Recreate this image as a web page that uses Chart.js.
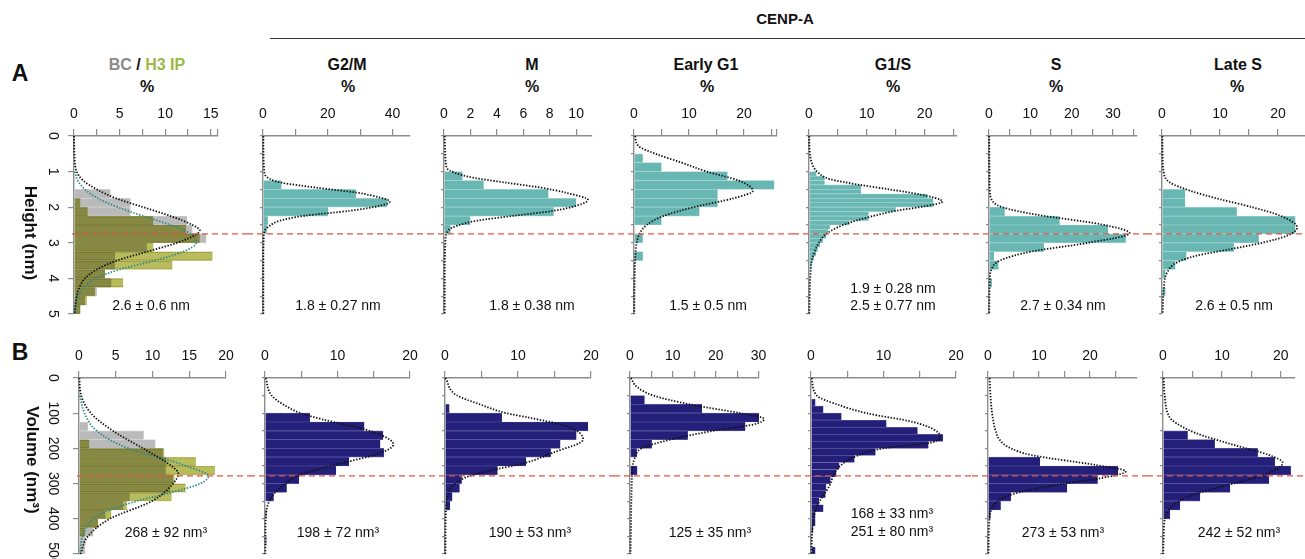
<!DOCTYPE html>
<html>
<head>
<meta charset="utf-8">
<script src="https://cdn.jsdelivr.net/npm/chart.js@4.4.1/dist/chart.umd.min.js"></script>
<style>
  html, body { margin: 0; padding: 0; background: #fff; }
  body { width: 1305px; height: 559px; overflow: hidden; position: relative;
         font-family: "Liberation Sans", Arial, Helvetica, sans-serif; color: #111; }
  canvas { position: absolute; }
  .t { position: absolute; transform: translate(-50%, -50%); white-space: nowrap; z-index: 5; }
  .title { font-weight: bold; font-size: 16px; }
  .stat { font-size: 14px; }
  .panel-letter { font-weight: bold; font-size: 23px; }
  .ylab { font-weight: bold; font-size: 17px; transform: translate(-50%, -50%) rotate(90deg); }
  .rule { position: absolute; left: 270px; top: 38px; width: 1035px; height: 1px; background: #333; }
</style>
</head>
<body>

<div class="t title" style="left:785px; top:18px; font-size:15px;">CENP-A</div>
<div class="rule"></div>

<div class="t panel-letter" style="left:20px; top:73px;">A</div>
<div class="t panel-letter" style="left:20px; top:352px;">B</div>
<div class="t ylab" style="left:30px; top:233px;">Height (nm)</div>
<div class="t ylab" style="left:32px; top:460px;">Volume (nm³)</div>

<div class="t title" style="left:147px; top:65px;"><span style="color:#8a8a8a">BC</span> / <span style="color:#9cb846">H3 IP</span></div>
<div class="t title" style="left:347px; top:65px;">G2/M</div>
<div class="t title" style="left:532px; top:65px;">M</div>
<div class="t title" style="left:706px; top:65px;">Early G1</div>
<div class="t title" style="left:893px; top:65px;">G1/S</div>
<div class="t title" style="left:1056px; top:65px;">S</div>
<div class="t title" style="left:1238px; top:65px;">Late S</div>
<div class="t title" style="left:147px; top:87px;">%</div>
<div class="t title" style="left:348px; top:87px;">%</div>
<div class="t title" style="left:532px; top:87px;">%</div>
<div class="t title" style="left:707px; top:87px;">%</div>
<div class="t title" style="left:893px; top:87px;">%</div>
<div class="t title" style="left:1056px; top:87px;">%</div>
<div class="t title" style="left:1237px; top:87px;">%</div>

<div class="t stat" style="left:151px; top:305px;">2.6 ± 0.6 nm</div>
<div class="t stat" style="left:338px; top:305px;">1.8 ± 0.27 nm</div>
<div class="t stat" style="left:532px; top:305px;">1.8 ± 0.38 nm</div>
<div class="t stat" style="left:708px; top:305px;">1.5 ± 0.5 nm</div>
<div class="t stat" style="left:893px; top:288px;">1.9 ± 0.28 nm</div>
<div class="t stat" style="left:893px; top:305px;">2.5 ± 0.77 nm</div>
<div class="t stat" style="left:1063px; top:305px;">2.7 ± 0.34 nm</div>
<div class="t stat" style="left:1234px; top:305px;">2.6 ± 0.5 nm</div>

<div class="t stat" style="left:166px; top:532px;">268 ± 92 nm³</div>
<div class="t stat" style="left:338px; top:532px;">198 ± 72 nm³</div>
<div class="t stat" style="left:530px; top:532px;">190 ± 53 nm³</div>
<div class="t stat" style="left:710px; top:532px;">125 ± 35 nm³</div>
<div class="t stat" style="left:892px; top:513px;">168 ± 33 nm³</div>
<div class="t stat" style="left:892px; top:531px;">251 ± 80 nm³</div>
<div class="t stat" style="left:1063px; top:532px;">273 ± 53 nm³</div>
<div class="t stat" style="left:1239px; top:532px;">242 ± 52 nm³</div>

<script>
// ---------- Row A: height (nm), 0.25 nm bins unless noted ----------
const bcHeightBins = [1.625, 1.875, 2.125, 2.375, 2.625, 2.875, 3.125, 3.375, 3.625, 3.875, 4.125, 4.375, 4.625, 4.875];
const bcHeightPct  = [4.0, 6.2, 6.2, 12.4, 13.0, 14.5, 8.0, 4.5, 4.5, 3.4, 4.1, 2.5, 1.2, 0.7];
const h3HeightPct  = [0, 0.7, 1.5, 8.7, 12.3, 13.8, 8.7, 15.2, 10.8, 3.4, 5.4, 2.3, 1.4, 0.7];
const bcHeightFitY = [0, 0.5, 1.0, 1.25, 1.5, 1.75, 2.0, 2.25, 2.5, 2.65, 2.75, 3.0, 3.25, 3.5, 3.75, 4.0, 4.25, 4.5, 5.0];
const bcHeightFitX = [0, 0.05, 0.3, 1.0, 2.5, 4.6, 7.6, 10.6, 13.0, 13.8, 13.5, 11.3, 8.0, 4.7, 2.5, 1.2, 0.6, 0.3, 0.05];
const h3HeightFitY = [1.0, 1.25, 1.5, 1.75, 2.0, 2.25, 2.5, 2.75, 3.0, 3.25, 3.5, 3.75, 4.0, 4.25, 4.5, 4.75, 5.0];
const h3HeightFitX = [0.1, 0.4, 1.2, 2.6, 4.8, 7.6, 10.6, 12.8, 13.4, 12.0, 8.8, 5.0, 2.4, 1.1, 0.5, 0.2, 0.1];

const g2mHeightBins = [1.375, 1.625, 1.875, 2.125, 2.375, 2.625];
const g2mHeightPct  = [5.7, 28.7, 38.4, 20.1, 1.5, 1.2];
const g2mHeightFitY = [0, 1.0, 1.2, 1.31, 1.45, 1.59, 1.73, 1.84, 1.96, 2.10, 2.24, 2.38, 2.52, 2.66, 2.9, 3.5, 5.0];
const g2mHeightFitX = [0.1, 0.4, 2.0, 5.7, 16.5, 28.9, 36.1, 39.2, 36.1, 26.8, 12.9, 5.2, 2.1, 0.5, 0.2, 0.1, 0.1];

const mHeightBins = [1.125, 1.375, 1.625, 1.875, 2.125, 2.375, 2.625];
const mHeightPct  = [1.4, 3.0, 7.9, 10.0, 8.3, 2.0, 0.5];
const mHeightFitY = [0, 0.5, 0.89, 1.03, 1.17, 1.31, 1.45, 1.59, 1.80, 1.96, 2.10, 2.24, 2.38, 2.52, 2.66, 3.0, 4.0, 5.0];
const mHeightFitX = [0.05, 0.1, 0.2, 0.8, 2.2, 4.7, 7.3, 9.2, 10.9, 10.0, 8.3, 5.3, 2.5, 1.0, 0.3, 0.1, 0.05, 0.05];

const eg1HeightBins = [0.625, 0.875, 1.125, 1.375, 1.625, 1.875, 2.125, 2.375, 2.625, 2.875, 3.125, 3.375];
const eg1HeightPct  = [1.6, 5.0, 17.0, 25.5, 15.2, 15.2, 11.9, 5.0, 0, 1.6, 0, 1.6];
const eg1HeightFitY = [0, 0.28, 0.51, 0.75, 1.0, 1.25, 1.54, 1.75, 2.0, 2.25, 2.5, 2.75, 3.0, 3.5, 4.0, 5.0];
const eg1HeightFitX = [0.2, 0.8, 4.1, 8.7, 13.2, 19.0, 21.6, 18.1, 10.8, 5.3, 2.3, 1.0, 0.5, 0.2, 0.1, 0.05];

// G1/S uses 0.125 nm bins
const g1sHeightBins = [1.0625, 1.1875, 1.3125, 1.4375, 1.5625, 1.6875, 1.8125, 1.9375, 2.0625, 2.1875, 2.3125,
                       2.4375, 2.5625, 2.6875, 2.8125, 2.9375, 3.0625, 3.1875, 3.3125, 3.4375, 3.5625, 3.6875];
const g1sHeightPct  = [1.3, 2.7, 2.7, 9.0, 9.0, 20.5, 21.5, 21.5, 15.0, 10.3, 10.3,
                       7.0, 3.6, 3.3, 3.0, 2.4, 1.9, 1.5, 1.2, 0.8, 0.5, 0.3];
const g1sHeightFitY = [0, 0.37, 0.84, 1.03, 1.21, 1.37, 1.5, 1.64, 1.84, 1.97, 2.1, 2.25, 2.5, 2.75, 3.0, 3.25, 3.5, 4.0, 4.5, 5.0];
const g1sHeightFitX = [0.05, 0.1, 0.7, 1.6, 3.6, 8.7, 13.9, 19.1, 23.1, 20.2, 15.1, 11.0, 5.9, 3.0, 1.7, 1.0, 0.5, 0.2, 0.1, 0.05];

const sHeightBins = [2.125, 2.375, 2.625, 2.875, 3.125, 3.375, 3.625, 3.875, 4.125];
const sHeightPct  = [3.8, 17.1, 28.8, 33.1, 13.3, 1.2, 2.3, 0, 0.7];
const sHeightFitY = [0, 1.0, 1.5, 1.78, 2.0, 2.21, 2.48, 2.73, 3.0, 3.24, 3.5, 3.75, 4.0, 4.5, 5.0];
const sHeightFitX = [0.05, 0.1, 0.2, 0.6, 3.2, 11.5, 27.0, 34.0, 24.0, 10.5, 2.6, 0.6, 0.2, 0.1, 0.05];

const lateSHeightBins = [1.625, 1.875, 2.125, 2.375, 2.625, 2.875, 3.125, 3.375, 3.625, 3.875, 4.125, 4.375];
const lateSHeightPct  = [4.0, 4.0, 12.9, 23.0, 23.0, 16.7, 12.4, 4.2, 2.3, 0.6, 0, 0.6];
const lateSHeightFitY = [0, 0.5, 1.03, 1.31, 1.54, 1.78, 2.01, 2.24, 2.57, 2.8, 2.99, 3.18, 3.36, 3.55, 3.83, 4.3, 5.0];
const lateSHeightFitX = [0.05, 0.1, 0.3, 1.4, 4.9, 10.1, 15.8, 20.4, 23.3, 21.6, 17.5, 11.8, 6.0, 2.6, 0.9, 0.3, 0.1];

// ---------- Row B: volume (nm3), 25 nm3 bins unless noted ----------
const bcVolBins = [137.5, 162.5, 187.5, 212.5, 237.5, 262.5, 287.5, 312.5, 337.5, 362.5, 387.5, 412.5, 437.5, 462.5, 487.5];
const bcVolPct  = [1.2, 8.8, 10.4, 11.4, 11.9, 11.8, 12.8, 12.4, 6.9, 6.0, 3.6, 2.6, 1.9, 0.9, 0.8];
const h3VolPct  = [0, 0, 1.4, 11.6, 15.9, 18.5, 13.0, 14.5, 12.6, 6.5, 4.4, 2.6, 0.8, 0, 0];
const bcVolFitY = [0, 50, 102, 150, 200, 250, 271, 300, 350, 400, 450, 500];
const bcVolFitX = [0.05, 0.3, 1.7, 4.6, 8.7, 12.6, 13.5, 12.8, 9.9, 4.2, 1.2, 0.2];
const h3VolFitY = [50, 102, 150, 200, 225, 250, 279, 300, 325, 350, 375, 400, 450, 500];
const h3VolFitX = [0.1, 0.8, 2.4, 6.7, 10.8, 14.6, 17.6, 16.5, 12.6, 7.8, 4.2, 2.0, 0.5, 0.1];

const g2mVolBins = [112.5, 137.5, 162.5, 187.5, 212.5, 237.5, 262.5, 287.5, 312.5, 337.5, 362.5, 387.5, 412.5, 437.5, 462.5];
const g2mVolPct  = [6.2, 13.7, 16.3, 15.9, 16.4, 11.6, 9.8, 4.7, 3.0, 1.2, 0, 0.2, 0, 0, 0.2];
const g2mVolFitY = [0, 49, 75, 99, 118, 146, 175, 189, 203, 222, 245, 275, 297, 325, 354, 400, 500];
const g2mVolFitX = [0.1, 0.9, 2.5, 4.8, 8.0, 13.8, 17.2, 17.7, 17.0, 14.5, 10.0, 4.8, 3.0, 1.4, 0.5, 0.1, 0.05];

const mVolBins = [87.5, 112.5, 137.5, 162.5, 187.5, 212.5, 237.5, 262.5, 287.5, 312.5, 337.5, 362.5];
const mVolPct  = [0.6, 7.8, 19.6, 18.0, 15.8, 14.5, 11.1, 7.2, 2.3, 2.0, 1.0, 0.7];
const mVolFitY = [0, 49, 75, 100, 113, 137, 175, 212, 241, 259, 278, 297, 325, 400, 500];
const mVolFitX = [0.05, 1.6, 4.8, 8.4, 11.6, 16.7, 18.9, 14.8, 11.0, 7.1, 3.4, 1.6, 0.5, 0.1, 0.05];

const eg1VolBins = [62.5, 87.5, 112.5, 137.5, 162.5, 187.5, 212.5, 237.5, 262.5];
const eg1VolPct  = [3.4, 16.8, 30.4, 26.9, 13.5, 5.1, 1.6, 0, 1.7];
const eg1VolFitY = [0, 25, 50, 75, 100, 116, 132, 150, 175, 200, 225, 250, 300, 430, 500];
const eg1VolFitX = [0.2, 1.6, 5.5, 14.0, 25.7, 31.3, 28.8, 19.5, 9.4, 2.7, 1.2, 0.6, 0.4, 0.2, 0.1];

// G1/S uses 20 nm3 bins
const g1sVolBins = [70, 90, 110, 130, 150, 170, 190, 210, 230, 250, 270, 290, 310, 330, 350, 370, 390, 410, 430, 450, 470, 490];
const g1sVolPct  = [0.6, 1.7, 4.2, 10.4, 14.7, 18.2, 16.2, 8.9, 6.0, 3.9, 3.5, 2.7, 2.1, 2.0, 1.1, 1.7, 0.6, 0.6, 0.3, 0, 0, 0.6];
const g1sVolFitY = [0, 50, 75, 100, 125, 146, 165, 184, 200, 225, 250, 275, 300, 325, 350, 377, 429, 500];
const g1sVolFitX = [0.1, 0.8, 3.6, 7.7, 14.1, 16.9, 17.8, 16.4, 10.0, 5.9, 4.0, 3.1, 2.7, 2.0, 1.2, 0.6, 0.2, 0.05];

const sVolBins = [212.5, 237.5, 262.5, 287.5, 312.5, 337.5, 362.5, 387.5];
const sVolPct  = [0, 10.2, 25.5, 21.5, 15.5, 4.5, 2.5, 0.5];
const sVolFitY = [0, 100, 150, 176, 200, 219, 247, 265, 285, 300, 320, 340, 365, 400, 500];
const sVolFitX = [0.3, 0.8, 1.5, 2.3, 4.5, 8.5, 21.0, 27.0, 22.0, 15.0, 7.5, 3.0, 1.0, 0.3, 0.1];

const lateSVolBins = [162.5, 187.5, 212.5, 237.5, 262.5, 287.5, 312.5, 337.5, 362.5, 387.5];
const lateSVolPct  = [4.2, 8.8, 16.1, 19.0, 21.7, 18.0, 11.4, 6.3, 2.9, 1.2];
const lateSVolFitY = [0, 50, 100, 119, 156, 190, 219, 241, 276, 304, 332, 361, 389, 450, 500];
const lateSVolFitX = [0.1, 0.3, 0.8, 1.5, 5.5, 12.0, 18.0, 20.3, 17.0, 11.0, 5.0, 1.8, 0.5, 0.1, 0.05];

// dashed reference level, one per row
const refHeight = 2.75;
const refVolume = 278;

// ---------- drawing ----------
const FONT = "'Liberation Sans', Arial, Helvetica, sans-serif";
const AXIS = '#8c8c8c';
const X_AXIS_H = 40;

const STYLE = {
  teal:  { bg: '#69b7b3', sep: '#a9d6d3' },
  navy:  { bg: '#241f79', sep: '#5e5aa6' },
  gray:  { bg: '#bababa', sep: '#d4d4d4' },
  olive: { bg: '#b9bc5c', sep: '#d3d59c', blend: 'multiply' }
};
const CURVE = { black: '#111111', teal: '#2a8b89' };

const refLinePlugin = {
  id: 'refLine',
  afterDatasetsDraw(chart, args, opts) {
    const y = chart.scales.y.getPixelForValue(opts.value);
    const ctx = chart.ctx;
    ctx.save();
    ctx.strokeStyle = '#e2553f';
    ctx.lineWidth = 1.4;
    ctx.setLineDash([6, 4]);
    ctx.beginPath();
    ctx.moveTo(opts.fromAxis ? chart.chartArea.left - 2 : 0, y);
    ctx.lineTo(chart.width, y);
    ctx.stroke();
    ctx.restore();
  }
};

// overlapping BC / H3 bars are multiplied, as in the figure
const blendPlugin = {
  id: 'blend',
  beforeDatasetDraw(chart, args) {
    const ds = chart.data.datasets[args.index];
    if (ds.blend) { chart.ctx.save(); chart.ctx.globalCompositeOperation = ds.blend; }
  },
  afterDatasetDraw(chart, args) {
    if (chart.data.datasets[args.index].blend) chart.ctx.restore();
  }
};

function barDataset(bins, pct, kind, order) {
  const s = STYLE[kind];
  return {
    type: 'bar',
    data: bins.map((b, i) => ({ y: b, x: pct[i] })),
    backgroundColor: s.bg,
    borderColor: s.sep,
    borderWidth: { top: 0.7, bottom: 0.7, left: 0, right: 0 },
    borderSkipped: false,
    grouped: false,
    barPercentage: 1,
    categoryPercentage: 1,
    order: order,
    blend: s.blend
  };
}

function fitDataset(ys, xs, color) {
  return {
    type: 'line',
    indexAxis: 'y',
    data: ys.map((y, i) => ({ x: xs[i], y: y })),
    borderColor: color,
    borderWidth: 1.8,
    borderDash: [1.4, 1.6],
    pointRadius: 0,
    cubicInterpolationMode: 'monotone',
    clip: 6,
    order: 0
  };
}

function addPanel(p) {
  const hasLabels = !!p.yLabels;
  const yw = hasLabels ? 45 : 16;
  const left = p.L - yw;
  const top = p.T - X_AXIS_H;
  const width = p.canvasRight - left;
  const height = X_AXIS_H + p.H + p.padBottom;

  const canvas = document.createElement('canvas');
  canvas.width = width;
  canvas.height = height;
  canvas.style.left = left + 'px';
  canvas.style.top = top + 'px';
  canvas.style.width = width + 'px';
  canvas.style.height = height + 'px';
  document.body.appendChild(canvas);

  const datasets = [];
  p.fits.forEach(f => datasets.push(fitDataset(f[0], f[1], CURVE[f[2]])));
  // first bar series is drawn underneath the following ones
  p.bars.forEach((b, i) => datasets.push(barDataset(b[0], b[1], b[2], p.bars.length - i)));

  new Chart(canvas, {
    type: 'bar',
    data: { datasets },
    options: {
      indexAxis: 'y',
      responsive: false,
      animation: false,
      devicePixelRatio: 1,
      layout: { padding: { left: 0, top: 0, right: p.canvasRight - p.R, bottom: p.padBottom } },
      plugins: {
        legend: { display: false },
        tooltip: { enabled: false },
        refLine: { value: p.ref, fromAxis: hasLabels }
      },
      scales: {
        x: {
          type: 'linear', position: 'top', min: 0, max: p.xMax, bounds: 'data',
          ticks: {
            stepSize: p.xStep, includeBounds: false, autoSkip: false, maxRotation: 0, minRotation: 0,
            padding: 6, color: '#111', font: { family: FONT, size: 14 },
            callback: v => (Math.abs(v / p.labelEvery - Math.round(v / p.labelEvery)) < 1e-6 ? v : '')
          },
          grid: { drawOnChartArea: false, drawTicks: true, tickLength: 7, color: AXIS, lineWidth: 1.2 },
          border: { color: AXIS, width: 1.4 },
          afterFit: s => { s.height = X_AXIS_H; s.paddingLeft = 0; s.paddingRight = 0; }
        },
        y: {
          type: 'linear', reverse: true, min: 0, max: p.yMax, bounds: 'data', offset: false,
          ticks: {
            display: hasLabels, stepSize: p.yStep, autoSkip: false,
            minRotation: -90, maxRotation: -90, crossAlign: 'center',
            padding: p.yPad || 4, color: '#111', font: { family: FONT, size: 14 }
          },
          grid: { drawOnChartArea: false, drawTicks: true, offset: false, tickLength: hasLabels ? 6 : 3, color: AXIS, lineWidth: 1.2 },
          border: { color: AXIS, width: 1.4 },
          afterFit: s => { s.width = yw; s.paddingTop = 0; s.paddingBottom = 0; }
        }
      }
    },
    plugins: [refLinePlugin, blendPlugin]
  });
}

const rowA = { T: 136, H: 178, padBottom: 6, yMax: 5, ref: refHeight };
const rowB = { T: 378, H: 176, padBottom: 5, yMax: 500, ref: refVolume };

const panels = [
  Object.assign({}, rowA, { L: 74, R: 218, canvasRight: 247, xMax: 15.8, xStep: 2.5, labelEvery: 5, yLabels: true, yStep: 1, yPad: 11,
    bars: [[bcHeightBins, bcHeightPct, 'gray'], [bcHeightBins, h3HeightPct, 'olive']],
    fits: [[bcHeightFitY, bcHeightFitX, 'black'], [h3HeightFitY, h3HeightFitX, 'teal']] }),
  Object.assign({}, rowA, { L: 263, R: 410, canvasRight: 428, xMax: 45.4, xStep: 10, labelEvery: 20, yStep: 0.5,
    bars: [[g2mHeightBins, g2mHeightPct, 'teal']], fits: [[g2mHeightFitY, g2mHeightFitX, 'black']] }),
  Object.assign({}, rowA, { L: 444, R: 592, canvasRight: 618, xMax: 11.2, xStep: 2, labelEvery: 2, yStep: 0.5,
    bars: [[mHeightBins, mHeightPct, 'teal']], fits: [[mHeightFitY, mHeightFitX, 'black']] }),
  Object.assign({}, rowA, { L: 634, R: 777, canvasRight: 793, xMax: 26.0, xStep: 5, labelEvery: 10, yStep: 0.5,
    bars: [[eg1HeightBins, eg1HeightPct, 'teal']], fits: [[eg1HeightFitY, eg1HeightFitX, 'black']] }),
  Object.assign({}, rowA, { L: 809, R: 957, canvasRight: 973, xMax: 25.6, xStep: 5, labelEvery: 10, yStep: 0.5,
    bars: [[g1sHeightBins, g1sHeightPct, 'teal']], fits: [[g1sHeightFitY, g1sHeightFitX, 'black']] }),
  Object.assign({}, rowA, { L: 989, R: 1137, canvasRight: 1146, xMax: 35.8, xStep: 5, labelEvery: 10, yStep: 0.5,
    bars: [[sHeightBins, sHeightPct, 'teal']], fits: [[sHeightFitY, sHeightFitX, 'black']] }),
  Object.assign({}, rowA, { L: 1162, R: 1305, canvasRight: 1305, xMax: 24.66, xStep: 5, labelEvery: 10, yStep: 0.5,
    bars: [[lateSHeightBins, lateSHeightPct, 'teal']], fits: [[lateSHeightFitY, lateSHeightFitX, 'black']] }),

  Object.assign({}, rowB, { L: 79, R: 226, canvasRight: 249, xMax: 20, xStep: 5, labelEvery: 5, yLabels: true, yStep: 100, yPad: 8,
    bars: [[bcVolBins, bcVolPct, 'gray'], [bcVolBins, h3VolPct, 'olive']],
    fits: [[bcVolFitY, bcVolFitX, 'black'], [h3VolFitY, h3VolFitX, 'teal']] }),
  Object.assign({}, rowB, { L: 265, R: 410, canvasRight: 429, xMax: 20, xStep: 5, labelEvery: 10, yStep: 50,
    bars: [[g2mVolBins, g2mVolPct, 'navy']], fits: [[g2mVolFitY, g2mVolFitX, 'black']] }),
  Object.assign({}, rowB, { L: 445, R: 591, canvasRight: 614, xMax: 20, xStep: 5, labelEvery: 10, yStep: 50,
    bars: [[mVolBins, mVolPct, 'navy']], fits: [[mVolFitY, mVolFitX, 'black']] }),
  Object.assign({}, rowB, { L: 630, R: 759, canvasRight: 795, xMax: 30.1, xStep: 5, labelEvery: 10, yStep: 50,
    bars: [[eg1VolBins, eg1VolPct, 'navy']], fits: [[eg1VolFitY, eg1VolFitX, 'black']] }),
  Object.assign({}, rowB, { L: 811, R: 956, canvasRight: 972, xMax: 20, xStep: 5, labelEvery: 10, yStep: 50,
    bars: [[g1sVolBins, g1sVolPct, 'navy']], fits: [[g1sVolFitY, g1sVolFitX, 'black']] }),
  Object.assign({}, rowB, { L: 988, R: 1137, canvasRight: 1147, xMax: 29.2, xStep: 5, labelEvery: 10, yStep: 50,
    bars: [[sVolBins, sVolPct, 'navy']], fits: [[sVolFitY, sVolFitX, 'black']] }),
  Object.assign({}, rowB, { L: 1163, R: 1295, canvasRight: 1305, xMax: 22.4, xStep: 5, labelEvery: 10, yStep: 50,
    bars: [[lateSVolBins, lateSVolPct, 'navy']], fits: [[lateSVolFitY, lateSVolFitX, 'black']] })
];

panels.forEach(addPanel);
</script>
</body>
</html>
